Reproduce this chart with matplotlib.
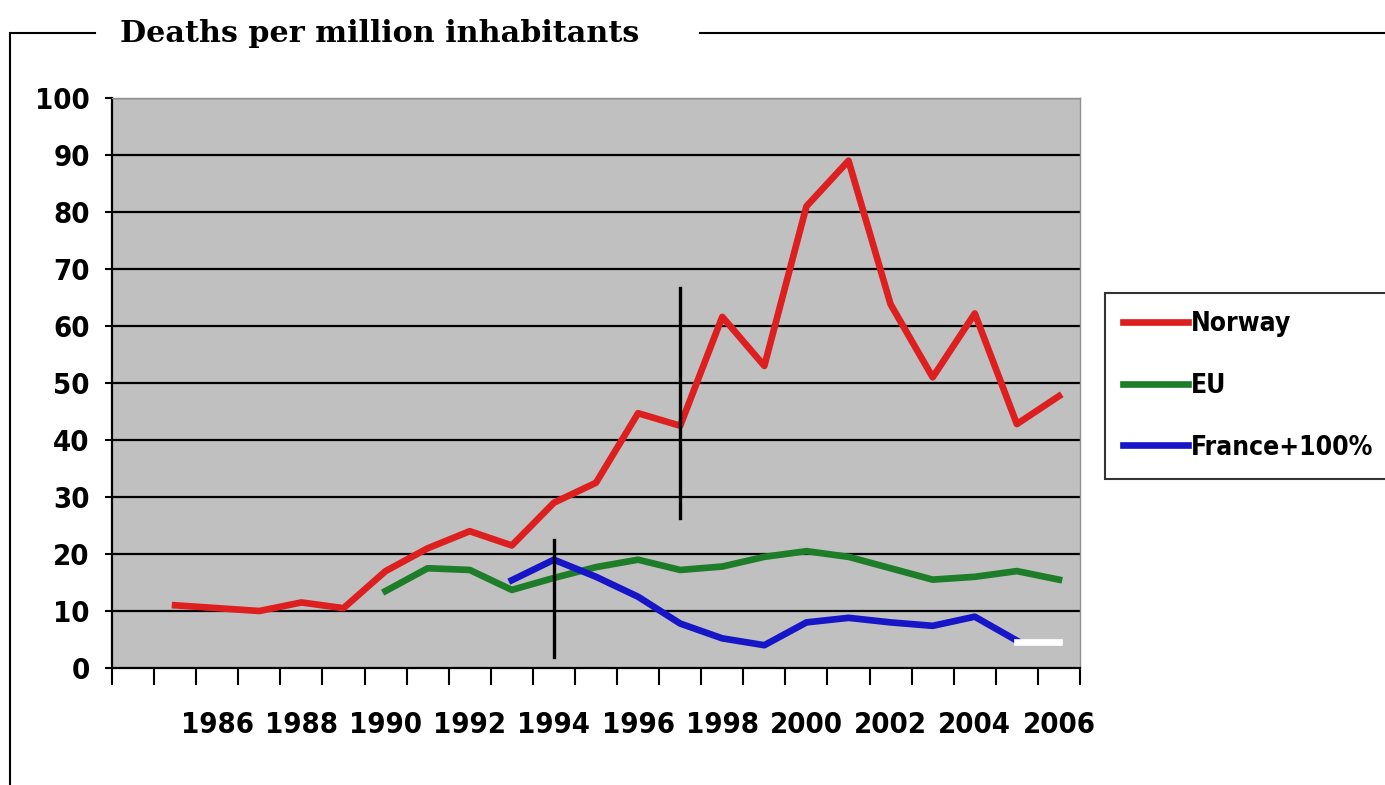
import matplotlib
matplotlib.use("Agg")
import matplotlib.pyplot as plt
from matplotlib.lines import Line2D

# data
norway_years = list(range(1985, 2007))
norway = [11, 10.5, 10, 11.5, 10.5, 17, 21, 24, 21.5, 29, 32.5, 44.7,
          42.5, 61.6, 53, 81, 89, 63.8, 51, 62.2, 42.8, 47.7]
eu_years = list(range(1990, 2007))
eu = [13.5, 17.5, 17.2, 13.7, 15.8, 17.7, 19, 17.2, 17.8, 19.5, 20.5,
      19.5, 17.5, 15.5, 16, 17, 15.5]
france_years = list(range(1993, 2006))
france = [15.4, 19, 16, 12.5, 7.8, 5.2, 4, 8, 8.8, 8, 7.4, 9, 4.8]
white_years = [2005, 2006]
white_vals = [4.5, 4.5]
mark_x = [1994, 1997]
mark_lo = [2, 26.3]
mark_hi = [22.5, 66.7]
yticks = list(range(0, 101, 10))
xlabels = list(range(1986, 2007, 2))

W, H = 1385, 785
fig = plt.figure(figsize=(W / 100, H / 100), dpi=100)
lab = dict(family=["DejaVu Sans"], weight="bold", stretch="condensed")

ax = fig.add_axes([112 / W, 1 - 668 / H, 968 / W, 570 / H])
ax.set_facecolor("#c0c0c0")
ax.set_xlim(1983.5, 2006.5)
ax.set_ylim(0, 100)

for y in yticks[1:]:
    ax.axhline(y, color="black", lw=1.6, zorder=1)

ax.plot(norway_years, norway, color="#dd1f1f", lw=4.8, zorder=3, label="Norway")
ax.plot(eu_years, eu, color="#1e7d28", lw=4.8, zorder=3, label="EU")
ax.plot(france_years, france, color="#1616c8", lw=4.8, zorder=3, label="France+100%")
ax.plot(white_years, white_vals, color="white", lw=4.8, zorder=3)
for x, lo, hi in zip(mark_x, mark_lo, mark_hi):
    ax.plot([x, x], [lo, hi], color="black", lw=2.4, zorder=4)

for s in ["top", "right"]:
    ax.spines[s].set_color("#909090")
    ax.spines[s].set_linewidth(1)
ax.spines["left"].set_linewidth(1.6)
ax.spines["bottom"].set_linewidth(1.6)

ax.set_yticks(yticks)
ax.set_yticklabels([str(v) for v in yticks], fontsize=21, **lab)
ax.tick_params(axis="y", length=5, width=1.5, pad=11)

ax.set_xticks(xlabels)
ax.set_xticklabels([str(v) for v in xlabels], fontsize=21, **lab)
ax.set_xticks([1983.5 + i for i in range(24)], minor=True)
ax.tick_params(axis="x", which="major", length=0, pad=31)
ax.tick_params(axis="x", which="minor", length=12, width=1.5)

# title and frame
fig.text(120 / W, 1 - 33 / H, "Deaths per million inhabitants", ha="left",
         va="center", fontsize=21.7, weight="bold",
         family=["DejaVu Serif"])
fig.add_artist(Line2D([10 / W, 95 / W], [1 - 33 / H] * 2, color="black", lw=1.5))
fig.add_artist(Line2D([700 / W, 1.0], [1 - 33 / H] * 2, color="black", lw=1.5))
fig.add_artist(Line2D([10 / W, 10 / W], [0, 1 - 33 / H], color="black", lw=1.5))

leg = fig.legend(loc="upper left", bbox_to_anchor=(1105 / W, 1 - 293 / H),
                 frameon=True, fancybox=False, edgecolor="black",
                 prop=dict(family=["DejaVu Sans"], weight="bold",
                           stretch="condensed", size=19),
                 handlelength=2.45, handletextpad=0.12, labelspacing=1.35,
                 borderpad=0.7, borderaxespad=0)
leg.get_frame().set_linewidth(1.5)

fig.savefig("out.png", dpi=100)
